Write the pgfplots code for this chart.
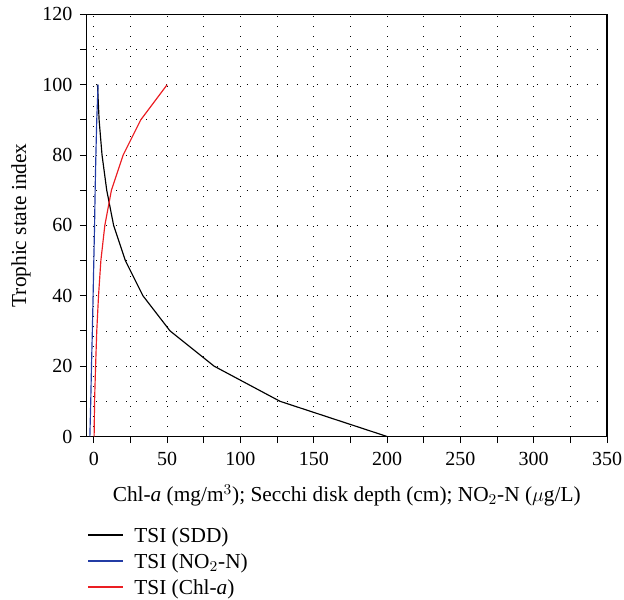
\documentclass[border=0pt]{standalone}
\usepackage{fontspec}
\setmainfont{Liberation Serif}
\usepackage{pgfplots}
\pgfplotsset{compat=1.18}
\definecolor{nored}{RGB}{235,30,35}
\definecolor{noblue}{RGB}{35,60,165}
\begin{document}
\begin{tikzpicture}
\begin{axis}[
  name=ax,
  width=312.3pt, height=253.3pt, scale only axis,
  xmin=-5, xmax=350, ymin=0, ymax=120,
  xtick={0,50,...,350}, ytick={0,20,...,120},
  minor x tick num=1, minor y tick num=1,
  tick align=outside, tick pos=left,
  major tick length=4pt, minor tick length=4pt,
  every tick/.style={black, line width=0.6pt},
  axis line style={line width=0.7pt},
  grid=both,
  grid style={black, line width=0.5pt, dash pattern=on 0.5pt off 5.5pt},
  minor grid style={black, line width=0.5pt, dash pattern=on 0.5pt off 5.5pt},
  /pgf/number format/assume math mode=true,
  ticklabel style={font=\fontsize{12}{14}\selectfont},
  xticklabel shift=2pt, yticklabel shift=1pt,
  xlabel={Chl-\textit{a} (mg/m$^3$); Secchi disk depth (cm); NO$_2$-N ($\mu$g/L)},
  ylabel={Trophic state index},
  xlabel style={font=\fontsize{12.8}{14}\selectfont,
    at={(axis description cs:0.5,0)}, anchor=base, yshift=-39.1pt},
  ylabel style={font=\fontsize{12.8}{14}\selectfont,
    at={(axis description cs:0,0.5)}, anchor=center, yshift=39.3pt},
  legend style={draw=none, fill=none, inner sep=0pt,
    at={(axis description cs:0.002,-0.2058)}, anchor=north west,
    font=\fontsize{12.8}{14}\selectfont,
    nodes={inner sep=0pt, text height=11pt, text depth=4.6pt},
    /tikz/every odd column/.append style={column sep=6.6pt}},
  legend cell align=left,
  legend image code/.code={\draw[#1, line width=0.7pt] (0pt,1pt) -- (20.6pt,1pt);},
]
\addplot[black, line width=0.7pt] coordinates {
  (200,0) (127,10) (82,20) (52,30) (33.5,40) (21.5,50) (13.5,60) (8.8,70) (5.6,80) (3.6,90) (2.5,100)
};
\addlegendentry{TSI (SDD)}
\addplot[noblue, line width=0.7pt] coordinates {
  (-2.7,0) (-2.1,10) (-1.6,20) (-1.0,30) (-0.5,40) (0,50) (0.5,60) (0.9,70) (1.4,80) (2.0,90) (2.9,100)
};
\addlegendentry{TSI (NO$_2$-N)}
\addplot[nored, line width=0.7pt] coordinates {
  (0.2,0) (0.5,10) (1.2,20) (2.0,30) (3.2,40) (4.8,50) (7.5,60) (12,70) (20,80) (32,90) (50,100)
};
\addlegendentry{TSI (Chl-\textit{a})}
\end{axis}
\pgfresetboundingbox
\path ([xshift=-51.9pt,yshift=-98.1pt]ax.south west) rectangle ([xshift=10.2pt,yshift=8.6pt]ax.north east);
\end{tikzpicture}
\end{document}
